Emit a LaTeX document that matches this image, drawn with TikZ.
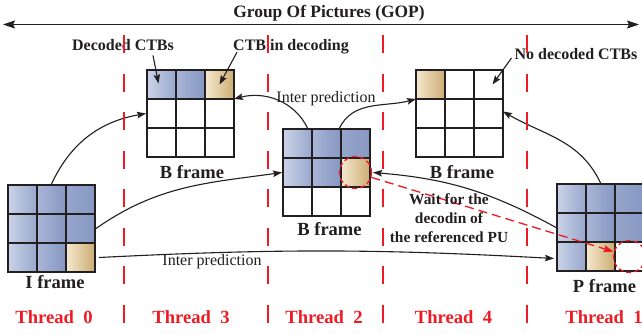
\documentclass[tikz,border=0pt]{standalone}
\usepackage{fontspec}
\setmainfont{Liberation Serif}
\usetikzlibrary{arrows.meta,calc}
\definecolor{tred}{HTML}{ED1C24}
\definecolor{gline}{HTML}{231F20}
\definecolor{bAl}{HTML}{CAD2E6}\definecolor{bAr}{HTML}{97A7CC}
\definecolor{bBl}{HTML}{A9B5D6}\definecolor{bBr}{HTML}{8597C2}
\definecolor{bCl}{HTML}{95A5CA}\definecolor{bCr}{HTML}{8798C3}
\definecolor{tnl}{HTML}{F5E8CF}\definecolor{tnr}{HTML}{CBAC72}
\newcommand\mkgrid[4]{%
  \foreach \s [count=\i from 0] in {#4} {%
    \pgfmathtruncatemacro\rr{int(\i/3)}%
    \pgfmathtruncatemacro\cc{mod(\i,3)}%
    \node[cellbox,\s] (#1-\rr-\cc) at ({#2+14.5+29*\cc},{#3-14.5-29*\rr}) {};
  }
  \node[framebox] (#1) at ({#2+43.5},{#3-43.5}) {};
}
\begin{document}
\begin{tikzpicture}[x=1pt,y=1pt,
  cellbox/.style={draw=gline, line width=1.3pt, minimum size=29pt, inner sep=0pt, outer sep=0pt},
  framebox/.style={draw=gline, line width=2pt, minimum size=87pt, inner sep=0pt},
  bA/.style={left color=bAl, right color=bAr},
  bB/.style={left color=bBl, right color=bBr},
  bC/.style={left color=bCl, right color=bCr},
  tn/.style={left color=tnl, right color=tnr},
  wh/.style={fill=white},
  conn/.style={draw=gline, line width=1.1pt, -{Stealth[length=9pt,width=6.5pt,inset=1.5pt]}},
  lbl/.style={font=\fontsize{16}{19}\selectfont\bfseries, inner sep=1pt, text=gline},
  frm/.style={font=\fontsize{18.5}{22}\selectfont\bfseries, inner sep=1pt, text=gline},
  thr/.style={font=\fontsize{18.6}{22}\selectfont\bfseries, inner sep=1pt, text=tred},
  ip/.style={font=\fontsize{16}{19}\selectfont, inner sep=1pt, text=gline},
  rcirc/.style={circle, draw=tred, line width=1.3pt, dash pattern=on 5pt off 3pt, minimum size=32pt, inner sep=0pt},
  rdash/.style={draw=tred, line width=1.3pt, dash pattern=on 9pt off 5pt, -{Stealth[length=10pt,width=7pt,inset=1.5pt]}},
  vdash/.style={draw=tred, line width=1.3pt, dash pattern=on 18pt off 20.57pt}
]
\useasboundingbox (0,0) rectangle (642,333);
\fill[white] (0,0) rectangle (642,333);

% title and GOP arrow
\node[font=\fontsize{17.4}{20}\selectfont\bfseries, anchor=base, inner sep=1pt, text=gline] (title) at (329,316) {Group Of Pictures (GOP)};
\coordinate (gl) at (3,308.5);
\coordinate (gr) at (639,308.5);
\draw[draw=gline, line width=1.3pt, {Stealth[length=12pt,width=8pt,inset=2pt]}-{Stealth[length=12pt,width=8pt,inset=2pt]}] (gl) -- (gr);

% grids
\mkgrid{I}{8}{148}{bA,bB,bC,bA,bB,bC,bA,bB,tn}
\mkgrid{B3}{147}{263}{bA,bB,tn,wh,wh,wh,wh,wh,wh}
\mkgrid{B2}{283}{204}{bA,bB,bC,bA,bB,tn,wh,wh,wh}
\mkgrid{B4}{416}{263}{tn,wh,wh,wh,wh,wh,wh,wh,wh}
\mkgrid{P}{557}{149}{bA,bB,bC,bA,bB,bC,bA,tn,wh}

% frame labels
\node[frm, anchor=base] (lI) at (55,45) {I frame};
\node[frm, anchor=base] (lB3) at (192,155) {B frame};
\node[frm, anchor=base] (lB2) at (329.5,98) {B frame};
\node[frm, anchor=base] (lB4) at (462,155) {B frame};
\node[frm, anchor=base] (lP) at (604.5,41) {P frame};

% annotations
\node[lbl, anchor=base] (dec) at (123,283) {Decoded CTBs};
\node[lbl, anchor=base] (ctb) at (291,283) {CTB in decoding};
\node[lbl, anchor=base] (nod) at (576,274) {No decoded CTBs};
\draw[conn] ([xshift=30pt,yshift=-4pt]dec.south) -- ([xshift=-3pt,yshift=1pt]B3-0-0.center);
\draw[conn] ([xshift=5pt,yshift=2.5pt]ctb.south west) -- (B3-0-2.center);
\draw[conn] ([xshift=-2pt,yshift=-4.5pt]nod.west) -- ([xshift=4pt]B4-0-2.center);

% inter prediction labels
\node[ip, anchor=base] (ip1) at (326,231) {Inter prediction};
\node[ip, anchor=base] (ip2) at (212,68) {Inter prediction};

% connectors
\draw[conn] (I.north) to[out=65,in=190] (B3.west);
\draw[conn] (I.east) to[out=35,in=188] (B2.west);
\draw[conn] ([xshift=4pt]I-2-2.east) to[bend left=3] ([xshift=-3pt,yshift=-2pt]P-2-0.west);
\draw[conn] ([xshift=-4pt]B2-0-0.north east) to[out=115,in=15] (B3-1-2.north east);
\draw[conn] ([xshift=-2pt]B2-0-2.north west) to[out=65,in=195] (B4-1-0.north west);
\draw[conn] (P.north) to[out=115,in=-30] ([yshift=2pt]B4-1-2.east);
\draw[conn] (P.west) to[bend right=12] ([xshift=3pt]B2-1-2.east);

% red dashed wait relation
\node[rcirc] (c1) at (B2-1-2) {};
\node[rcirc] (c2) at (P-2-2) {};
\draw[rdash] (c1) -- (c2);

\node[font=\fontsize{15.4}{19}\selectfont\bfseries, align=center, inner sep=0pt, text=gline] (wait) at (449,115) {Wait for the\\decodin of\\the referenced PU};

% thread separators
\foreach \x/\n in {124/s1,268/s2,383/s3,527/s4} {
  \coordinate (\n t) at (\x,298);
  \coordinate (\n b) at (\x,10);
  \draw[vdash] (\n t) -- (\n b);
}

% thread labels
\node[thr, anchor=base] (t0) at (54,10) {Thread\ \ 0};
\node[thr, anchor=base] (t3) at (191,10) {Thread\ \ 3};
\node[thr, anchor=base] (t2) at (324,10) {Thread\ \ 2};
\node[thr, anchor=base] (t4) at (453.5,10) {Thread\ \ 4};
\node[thr, anchor=base] (t1) at (604,10) {Thread\ \ 1};
\end{tikzpicture}
\end{document}
